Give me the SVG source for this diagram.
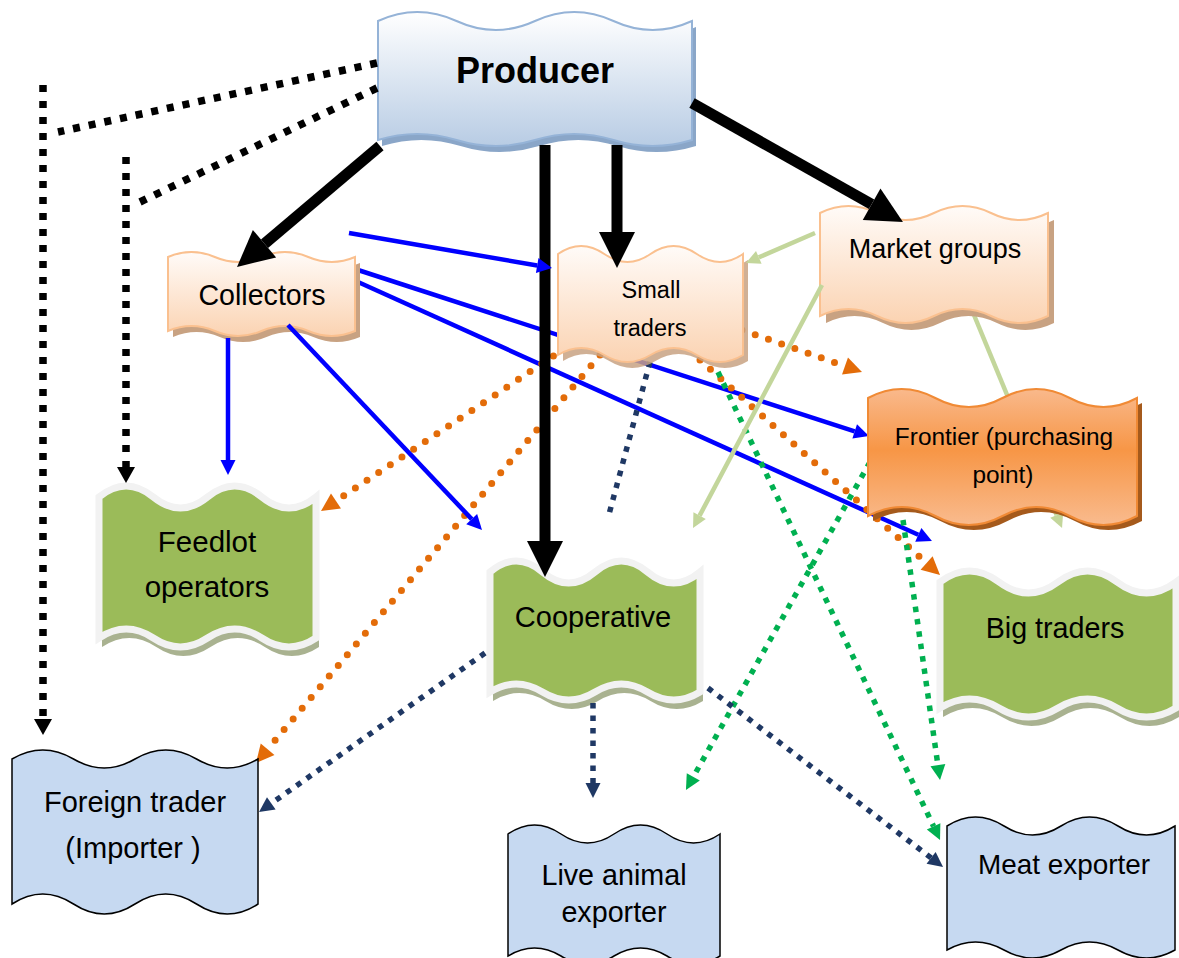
<svg xmlns="http://www.w3.org/2000/svg" width="1179" height="958" viewBox="0 0 1179 958">
<defs>
<linearGradient id="gProducer" x1="0" y1="0" x2="0" y2="1"><stop offset="0" stop-color="#ffffff"/><stop offset="1" stop-color="#b8cce4"/></linearGradient>
<linearGradient id="gPeach" x1="0" y1="0" x2="0" y2="1"><stop offset="0" stop-color="#fffbf8"/><stop offset="1" stop-color="#fbd3b2"/></linearGradient>
<linearGradient id="gFrontier" x1="0" y1="0" x2="0" y2="1"><stop offset="0" stop-color="#f9b98c"/><stop offset="0.45" stop-color="#f79646"/><stop offset="1" stop-color="#f9bb8e"/></linearGradient>
<marker id="ahBlack" markerUnits="userSpaceOnUse" markerWidth="36" markerHeight="36" refX="0" refY="18" orient="auto" overflow="visible"><path d="M0,0 L36,18 L0,36 Z" fill="#000"/></marker>
<marker id="ahBlackS" markerUnits="userSpaceOnUse" markerWidth="16" markerHeight="18" refX="0" refY="9" orient="auto" overflow="visible"><path d="M0,0 L16,9 L0,18 Z" fill="#000"/></marker>
<marker id="ahBlue" markerUnits="userSpaceOnUse" markerWidth="15" markerHeight="15" refX="0" refY="7.5" orient="auto" overflow="visible"><path d="M0,0 L15,7.5 L0,15 Z" fill="#0000ff"/></marker>
<marker id="ahOrange" markerUnits="userSpaceOnUse" markerWidth="18" markerHeight="18" refX="0" refY="9" orient="auto" overflow="visible"><path d="M0,0 L18,9 L0,18 Z" fill="#e36c09"/></marker>
<marker id="ahLG" markerUnits="userSpaceOnUse" markerWidth="14" markerHeight="14" refX="0" refY="7" orient="auto" overflow="visible"><path d="M0,0 L14,7 L0,14 Z" fill="#c3d69b"/></marker>
<marker id="ahGreen" markerUnits="userSpaceOnUse" markerWidth="15" markerHeight="15" refX="0" refY="7.5" orient="auto" overflow="visible"><path d="M0,0 L15,7.5 L0,15 Z" fill="#00b050"/></marker>
<marker id="ahNavy" markerUnits="userSpaceOnUse" markerWidth="15" markerHeight="15" refX="0" refY="7.5" orient="auto" overflow="visible"><path d="M0,0 L15,7.5 L0,15 Z" fill="#1f3864"/></marker>
</defs>
<style>
.t{font-family:"Liberation Sans",Arial,sans-serif;fill:#000;text-anchor:middle}
.peach{fill:url(#gPeach);stroke:#fac08f;stroke-width:2}
.peachSh{fill:#c8a282}
.green{fill:#9bbb59;stroke:#f2f2f2;stroke-width:7}
.greenSh{fill:#a9b290}
.blue{fill:#c6d9f1;stroke:#000;stroke-width:1.5}
.blk{stroke:#000;stroke-width:11;fill:none}
.blkDot{stroke:#000;stroke-width:7.5;stroke-dasharray:7 9;fill:none}
.bl{stroke:#0000ff;stroke-width:4.5;fill:none}
.or{stroke:#e36c09;stroke-width:7;stroke-dasharray:0 14;stroke-linecap:round;fill:none}
.lg{stroke:#c3d69b;stroke-width:4.5;fill:none}
.gr{stroke:#00b050;stroke-width:5.5;stroke-dasharray:5.5 7;fill:none}
.nv{stroke:#1f3864;stroke-width:5.5;stroke-dasharray:5.5 7;fill:none}
</style>
<rect width="1179" height="958" fill="#ffffff"/>

<g id="connectors-back">
<line class="bl" x1="358" y1="270" x2="854.7" y2="431.4" marker-end="url(#ahBlue)"/>
<line class="bl" x1="358" y1="282" x2="918.3" y2="534.8" marker-end="url(#ahBlue)"/>
<line class="lg" x1="974" y1="315" x2="1056.7" y2="515.1" marker-end="url(#ahLG)"/>
<line class="or" x1="600" y1="325" x2="336" y2="501" marker-end="url(#ahOrange)"/>
<line class="or" x1="600" y1="355" x2="267.6" y2="749.2" marker-end="url(#ahOrange)"/>
<line class="or" x1="742" y1="330" x2="845" y2="366.1" marker-end="url(#ahOrange)"/>
<line class="or" x1="700" y1="360" x2="926.6" y2="563" marker-end="url(#ahOrange)"/>
<line class="gr" x1="718" y1="372" x2="933.6" y2="826.4" marker-end="url(#ahGreen)"/>
<line class="gr" x1="870" y1="462" x2="693.3" y2="776.9" marker-end="url(#ahGreen)"/>
<line class="gr" x1="903" y1="520" x2="937.9" y2="765.1" marker-end="url(#ahGreen)"/>
<line class="nv" x1="650" y1="362" x2="608" y2="518"/>
</g>

<g id="producer">
<path transform="translate(4,6)" fill="#8aa6c8" d="M378,21 Q417.25,3 456.5,21 T535,21 T613.5,21 T692,21 L692,140 Q652.75,152 613.5,140 T535,140 T456.5,140 T378,140 Z"/>
<path fill="url(#gProducer)" stroke="#95b3d7" stroke-width="2" d="M378,21 Q417.25,3 456.5,21 T535,21 T613.5,21 T692,21 L692,140 Q652.75,152 613.5,140 T535,140 T456.5,140 T378,140 Z"/>
<text class="t" x="535" y="83" font-size="36" font-weight="bold">Producer</text>
</g>

<g id="collectors">
<path class="peachSh" transform="translate(5,6)" d="M168,257 Q191.4,247 214.8,257 T261.5,257 T308.3,257 T355,257 L355,331 Q331.6,341 308.3,331 T261.5,331 T214.8,331 T168,331 Z"/>
<path class="peach" d="M168,257 Q191.4,247 214.8,257 T261.5,257 T308.3,257 T355,257 L355,331 Q331.6,341 308.3,331 T261.5,331 T214.8,331 T168,331 Z"/>
<text class="t" x="262" y="305" font-size="28.6">Collectors</text>
</g>

<g id="small-traders">
<path class="peachSh" transform="translate(5,6)" d="M558,254 Q581.1,238 604.3,254 T650.5,254 T696.8,254 T743,254 L743,355 Q719.9,369 696.8,355 T650.5,355 T604.3,355 T558,355 Z" opacity="0.85"/>
<path class="peach" d="M558,254 Q581.1,238 604.3,254 T650.5,254 T696.8,254 T743,254 L743,355 Q719.9,369 696.8,355 T650.5,355 T604.3,355 T558,355 Z"/>
<text class="t" x="651" y="298" font-size="23.5">Small</text>
<text class="t" x="650" y="336" font-size="23.5">traders</text>
</g>

<g id="market-groups">
<path class="peachSh" transform="translate(6,7)" d="M820,213 Q848.5,199 877,213 T934,213 T991,213 T1048,213 L1048,316 Q1019.5,330 991,316 T934,316 T877,316 T820,316 Z"/>
<path class="peach" d="M820,213 Q848.5,199 877,213 T934,213 T991,213 T1048,213 L1048,316 Q1019.5,330 991,316 T934,316 T877,316 T820,316 Z"/>
<text class="t" x="935" y="258" font-size="27">Market groups</text>
</g>

<g id="frontier">
<path transform="translate(5,5)" fill="#a55a1c" d="M868,398 Q901.6,380 935.3,398 T1002.5,398 T1069.8,398 T1137,398 L1137,516 Q1103.4,534 1069.8,516 T1002.5,516 T935.3,516 T868,516 Z"/>
<path fill="url(#gFrontier)" stroke="#f08a35" stroke-width="2" d="M868,398 Q901.6,380 935.3,398 T1002.5,398 T1069.8,398 T1137,398 L1137,516 Q1103.4,534 1069.8,516 T1002.5,516 T935.3,516 T868,516 Z"/>
<text class="t" x="1004" y="445" font-size="24.4">Frontier (purchasing</text>
<text class="t" x="1003" y="483" font-size="24.4">point)</text>
</g>

<g id="feedlot-operators">
<path class="greenSh" transform="translate(3,9)" d="M99,497 Q126.1,475 153.3,497 T207.5,497 T261.8,497 T316,497 L316,638 Q288.9,656 261.8,638 T207.5,638 T153.3,638 T99,638 Z"/>
<path class="green" d="M99,497 Q126.1,475 153.3,497 T207.5,497 T261.8,497 T316,497 L316,638 Q288.9,656 261.8,638 T207.5,638 T153.3,638 T99,638 Z"/>
<text class="t" x="207" y="552" font-size="29.5">Feedlot</text>
<text class="t" x="207" y="597" font-size="29.5">operators</text>
</g>

<g id="cooperative">
<path class="greenSh" transform="translate(3,9)" d="M490,572 Q516.3,550 542.5,572 T595,572 T647.5,572 T700,572 L700,692 Q673.8,708 647.5,692 T595,692 T542.5,692 T490,692 Z"/>
<path class="green" d="M490,572 Q516.3,550 542.5,572 T595,572 T647.5,572 T700,572 L700,692 Q673.8,708 647.5,692 T595,692 T542.5,692 T490,692 Z"/>
<text class="t" x="593" y="627" font-size="29">Cooperative</text>
</g>

<g id="big-traders">
<path class="greenSh" transform="translate(3,9)" d="M940,582 Q969.5,560 999,582 T1058,582 T1117,582 T1176,582 L1176,708 Q1146.5,726 1117,708 T1058,708 T999,708 T940,708 Z"/>
<path class="green" d="M940,582 Q969.5,560 999,582 T1058,582 T1117,582 T1176,582 L1176,708 Q1146.5,726 1117,708 T1058,708 T999,708 T940,708 Z"/>
<text class="t" x="1055" y="638" font-size="28.7">Big traders</text>
</g>

<g id="foreign-trader">
<path class="blue" d="M12,759 Q42.8,741 73.5,759 T135,759 T196.5,759 T258,759 L258,904 Q227.3,924 196.5,904 T135,904 T73.5,904 T12,904 Z"/>
<text class="t" x="135" y="812" font-size="29">Foreign trader</text>
<text class="t" x="133" y="858" font-size="29">(Importer )</text>
</g>

<g id="live-animal-exporter">
<path class="blue" d="M508,834 Q534.5,816 561,834 T614,834 T667,834 T720,834 L720,956 Q693.5,972 667,956 T614,956 T561,956 T508,956 Z"/>
<text class="t" x="614" y="885" font-size="28.7">Live animal</text>
<text class="t" x="614" y="922" font-size="28.7">exporter</text>
</g>

<g id="meat-exporter">
<path class="blue" d="M947,826 Q975.5,808 1004,826 T1061,826 T1118,826 T1175,826 L1175,950 Q1146.5,966 1118,950 T1061,950 T1004,950 T947,950 Z"/>
<text class="t" x="1064" y="874" font-size="27.9">Meat exporter</text>
</g>

<g id="connectors">
<line class="blk" x1="380" y1="146" x2="264.5" y2="243.7" marker-end="url(#ahBlack)"/>
<line class="blk" x1="545" y1="145" x2="545" y2="541" marker-end="url(#ahBlack)"/>
<line class="blk" x1="617" y1="145" x2="617" y2="232" marker-end="url(#ahBlack)"/>
<line class="blk" x1="692" y1="103" x2="871.6" y2="204.3" marker-end="url(#ahBlack)"/>
<line class="blkDot" x1="377" y1="63" x2="58" y2="132"/>
<line class="blkDot" x1="43" y1="85" x2="43" y2="719" marker-end="url(#ahBlackS)"/>
<line class="blkDot" x1="377" y1="88" x2="140" y2="202"/>
<line class="blkDot" x1="126" y1="157" x2="126" y2="467" marker-end="url(#ahBlackS)"/>
<line class="bl" x1="228" y1="338" x2="228" y2="460" marker-end="url(#ahBlue)"/>
<line class="bl" x1="349" y1="233" x2="537.2" y2="265.5" marker-end="url(#ahBlue)"/>
<line class="bl" x1="288" y1="325" x2="471.7" y2="519.1" marker-end="url(#ahBlue)"/>
<line class="lg" x1="815" y1="233" x2="758.8" y2="257.4" marker-end="url(#ahLG)"/>
<line class="lg" x1="822" y1="285" x2="699.6" y2="515.6" marker-end="url(#ahLG)"/>
<line class="nv" x1="485" y1="653" x2="271.3" y2="803.4" marker-end="url(#ahNavy)"/>
<line class="nv" x1="593" y1="703" x2="593" y2="783" marker-end="url(#ahNavy)"/>
<line class="nv" x1="708" y1="688" x2="931.1" y2="857.9" marker-end="url(#ahNavy)"/>
</g>
</svg>
